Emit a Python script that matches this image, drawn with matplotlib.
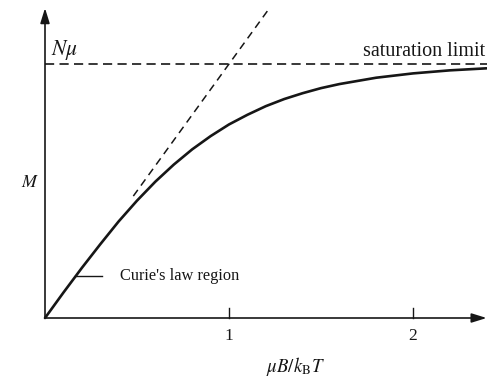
import matplotlib
matplotlib.use('Agg')
import matplotlib.pyplot as plt

plt.rcParams['font.family'] = ['Liberation Serif', 'DejaVu Serif']
plt.rcParams['mathtext.fontset'] = 'stix'

x_curve = [0, 0.1, 0.2, 0.3, 0.4, 0.5, 0.6, 0.7, 0.8, 0.9, 1.0, 1.1, 1.2,
           1.3, 1.4, 1.5, 1.6, 1.8, 2.0, 2.2, 2.4]
m_curve = [0, 0.10, 0.197, 0.29, 0.38, 0.462, 0.537, 0.604, 0.664, 0.716, 0.762,
           0.80, 0.834, 0.862, 0.885, 0.905, 0.921, 0.946, 0.963, 0.975, 0.983]

# Curie's law tangent (dashed), drawn from where it leaves the curve
x_curie = [0.48, 1.22]
m_curie = [0.48, 1.22]

saturation = 1.0
x_ticks = [1, 2]
x_tick_labels = ['1', '2']

ink = '#161616'

fig = plt.figure(figsize=(4.87, 3.81), dpi=100)
ax = fig.add_axes([0, 0, 1, 1])
# pixel mapping: origin at (45, 318), 184 px per x unit, 254 px per N mu
ax.set_xlim(-45 / 184, (487 - 45) / 184)
ax.set_ylim((318 - 381) / 254, 318 / 254)
ax.axis('off')

# axes with arrows
arrow = dict(arrowstyle='-|>,head_length=0.9,head_width=0.28', color=ink, lw=1.2,
             shrinkA=0, shrinkB=0)
ax.annotate('', xy=(2.40, 0), xytext=(0, 0), arrowprops=arrow)
ax.annotate('', xy=(0, 1.22), xytext=(0, 0), arrowprops=arrow)

for t, lab in zip(x_ticks, x_tick_labels):
    ax.plot([t, t], [0, 0.04], color=ink, lw=1.0)
    ax.text(t, -0.072, lab, ha='center', va='center', fontsize=12.5, color=ink)

# saturation limit
ax.plot([0, 2.40], [saturation, saturation], color=ink, lw=1.2, dashes=(5.5, 3.2))
ax.text(2.39, 1.048, 'saturation limit', ha='right', va='center', fontsize=14.5, color=ink)
ax.text(0.035, 1.055, r'$N\mu$', ha='left', va='center', fontsize=15.5, color=ink)

# Curie's law tangent
ax.plot(x_curie, m_curie, color=ink, lw=1.1, dashes=(5, 3.5))

# magnetization curve
ax.plot(x_curve, m_curve, color=ink, lw=1.9, solid_capstyle='round')

# Curie's law region label
ax.plot([0.165, 0.31], [0.167, 0.167], color=ink, lw=1.0)
ax.text(0.41, 0.167, "Curie's law region", ha='left', va='center', fontsize=11.8, color=ink)

ax.text(-0.08, 0.535, r'$M$', ha='center', va='center', fontsize=13, color=ink)
ax.text(1.36, -0.19, r'$\mu B/k_{\mathrm{B}}T$', ha='center', va='center', fontsize=13.5, color=ink)

fig.savefig('out.png', dpi=100)
